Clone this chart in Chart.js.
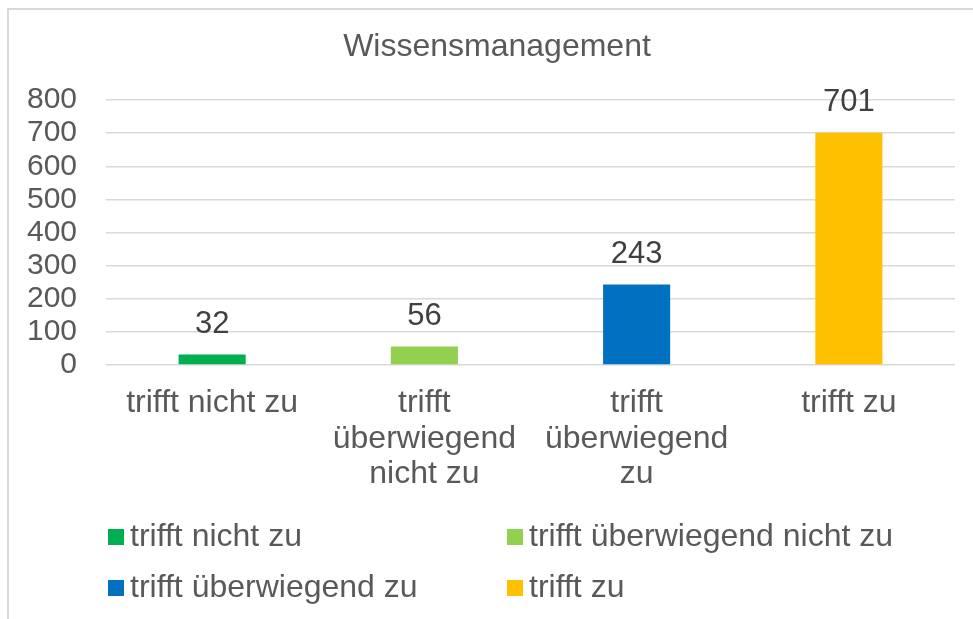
<!DOCTYPE html>
<html>
<head>
<meta charset="utf-8">
<script src="https://cdn.jsdelivr.net/npm/chart.js@4/dist/chart.umd.min.js"></script>
<style>
  html, body { margin: 0; padding: 0; background: #fff; overflow: hidden; }
  #frame { position: absolute; left: 7px; top: 8px; width: 1100px; height: 800px; border: 2px solid #d9d9d9; box-sizing: border-box; }
  #wrap { position: absolute; left: 0; top: 0; width: 973px; height: 619px; }
</style>
</head>
<body>
<div id="frame"></div>
<div id="wrap"><canvas id="c" width="973" height="619"></canvas></div>
<script>
const titleText = "Wissensmanagement";
const categories = [["trifft nicht zu"], ["trifft", "überwiegend", "nicht zu"], ["trifft", "überwiegend", "zu"], ["trifft zu"]];
const legendLabels = ["trifft nicht zu", "trifft überwiegend nicht zu", "trifft überwiegend zu", "trifft zu"];
const values = [32, 56, 243, 701];
const barColors = ["#00B050", "#92D050", "#0070C0", "#FFC000"];
const yTicks = [0, 100, 200, 300, 400, 500, 600, 700, 800];

const FONT = "'Liberation Sans', Arial, sans-serif";

const dataLabels = {
  id: "dataLabels",
  afterDatasetsDraw(chart) {
    const ctx = chart.ctx;
    const meta = chart.getDatasetMeta(0);
    ctx.save();
    ctx.font = "31px " + FONT;
    ctx.fillStyle = "#404040";
    ctx.textAlign = "center";
    ctx.textBaseline = "middle";
    meta.data.forEach((bar, i) => {
      ctx.fillText(String(values[i]), bar.x, bar.y - 30);
    });
    ctx.restore();
  }
};

const titleAndLegend = {
  id: "titleAndLegend",
  afterDraw(chart) {
    const ctx = chart.ctx;
    ctx.save();
    ctx.font = "32px " + FONT;
    ctx.fillStyle = "#595959";
    ctx.textAlign = "center";
    ctx.textBaseline = "middle";
    ctx.fillText(titleText, 497, 47);

    ctx.textAlign = "left";
    legendLabels.forEach((lab, i) => {
      const col = i % 2, row = Math.floor(i / 2);
      const x = 108 + col * 399;
      const y = 537 + row * 51;
      ctx.fillStyle = barColors[i];
      ctx.fillRect(x, y - 8, 16, 16);
      ctx.fillStyle = "#595959";
      ctx.fillText(lab, x + 22, y);
    });
    ctx.restore();
  }
};

new Chart(document.getElementById("c"), {
  type: "bar",
  data: {
    labels: categories,
    datasets: [{
      data: values,
      backgroundColor: barColors,
      barPercentage: 0.316,
      categoryPercentage: 1.0
    }]
  },
  options: {
    responsive: false,
    animation: false,
    devicePixelRatio: 1,
    layout: { padding: { left: 0, right: 18, top: 100, bottom: 128 } },
    plugins: {
      legend: { display: false },
      tooltip: { enabled: false },
      title: { display: false }
    },
    scales: {
      x: {
        grid: { display: false, drawTicks: false },
        border: { display: false },
        ticks: {
          color: "#595959",
          font: { family: FONT, size: 32, lineHeight: 1.1 },
          padding: 21,
          maxRotation: 0,
          minRotation: 0,
          autoSkip: false
        },
        afterFit(scale) { scale.height = 126; }
      },
      y: {
        min: 0,
        max: 800,
        afterBuildTicks(scale) { scale.ticks = yTicks.map(v => ({ value: v })); },
        grid: { color: "#d9d9d9", lineWidth: 1.5, drawTicks: false },
        border: { display: false },
        ticks: {
          color: "#595959",
          font: { family: FONT, size: 30 },
          padding: 29,
          autoSkip: false
        },
        afterFit(scale) { scale.width = 106; }
      }
    }
  },
  plugins: [dataLabels, titleAndLegend]
});
</script>
</body>
</html>
